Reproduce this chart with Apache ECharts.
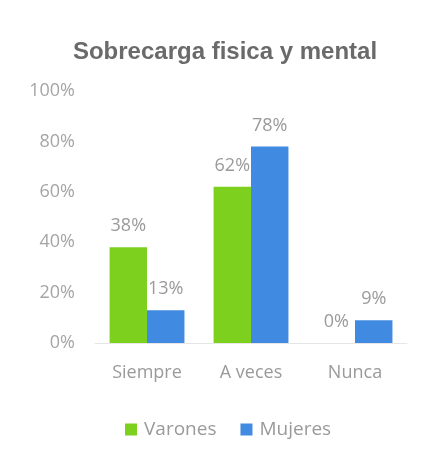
<!DOCTYPE html>
<html>
<head>
<meta charset="utf-8">
<script src="https://cdn.jsdelivr.net/npm/echarts@6/dist/echarts.min.js"></script>
<style>
html, body { margin: 0; padding: 0; background: #fff; }
#main { width: 425px; height: 458px; }
</style>
</head>
<body>
<div id="main"></div>
<script>
var categories = ['Siempre', 'A veces', 'Nunca'];
var varones = [38, 62, 0];
var mujeres = [13, 78, 9];

var myChart = echarts.init(document.getElementById('main'));

var labelStyle = {
    show: true,
    position: 'top',
    distance: 12,
    color: '#9a9a9a',
    fontSize: 18,
    fontFamily: 'Open Sans',
    formatter: '{c}%'
};

option = {
    title: {
        text: 'Sobrecarga fisica y mental',
        left: 220,
        textAlign: 'center',
        top: 35,
        textStyle: {
            color: '#6a6a6a',
            fontSize: 24,
            fontWeight: 'bold',
            fontFamily: 'Liberation Sans'
        }
    },
    legend: {
        top: 415,
        left: 120,
        itemWidth: 12,
        itemHeight: 12,
        itemGap: 24,
        icon: 'rect',
        textStyle: { color: '#9a9a9a', fontSize: 19, fontFamily: 'Open Sans', padding: [0, 0, 0, 2] },
        data: ['Varones', 'Mujeres']
    },
    grid: {
        left: 95,
        right: 18,
        top: 91,
        bottom: 115
    },
    xAxis: {
        type: 'category',
        data: categories,
        axisLine: { lineStyle: { color: '#e6e6e6' } },
        axisTick: { show: false },
        axisLabel: { color: '#9a9a9a', fontSize: 18, fontFamily: 'Open Sans', margin: 21 }
    },
    yAxis: {
        type: 'value',
        min: 0,
        max: 100,
        interval: 20,
        axisLine: { show: false },
        axisTick: { show: false },
        splitLine: { show: false },
        axisLabel: { color: '#a5a5a5', fontSize: 18, fontFamily: 'Open Sans', formatter: '{value}%', margin: 20 }
    },
    series: [
        {
            name: 'Varones',
            type: 'bar',
            data: varones,
            barGap: '0%',
            barCategoryGap: '28%',
            itemStyle: { color: '#7dd11e' },
            label: labelStyle
        },
        {
            name: 'Mujeres',
            type: 'bar',
            data: mujeres,
            itemStyle: { color: '#418ae2' },
            label: labelStyle
        }
    ]
};

myChart.setOption(option);
</script>
</body>
</html>
